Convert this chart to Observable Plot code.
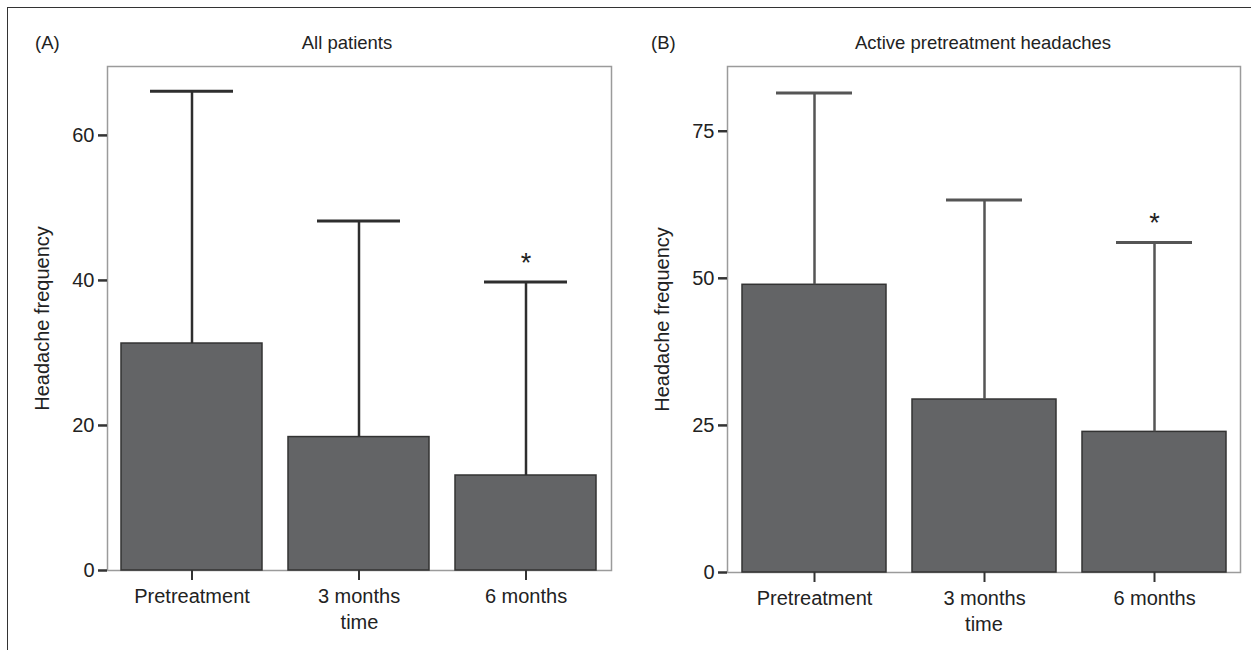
<!DOCTYPE html>
<html>
<head>
<meta charset="utf-8">
<script src="https://cdn.jsdelivr.net/npm/d3@7"></script>
<script src="https://cdn.jsdelivr.net/npm/@observablehq/plot@0.6"></script>
<style>
  html, body { margin: 0; padding: 0; background: #fff; }
  #root { position: relative; width: 1251px; height: 650px; overflow: hidden; background: #fff;
          font-family: "Liberation Sans", Arial, Helvetica, sans-serif; color: #222; }
  #border { position: absolute; left: 7px; top: 7px; width: 1300px; height: 700px;
            border-left: 1.5px solid #333; border-top: 1.5px solid #333; }
  .panel { position: absolute; top: 0; }
  .tag, .title { position: absolute; font-size: 18.5px; line-height: 1; white-space: nowrap; }
  .title { transform: translateX(-50%); }
</style>
</head>
<body>
<div id="root">
  <div id="border"></div>
  <div class="tag" style="left:35px; top:34px;">(A)</div>
  <div class="title" style="left:347px; top:34px;">All patients</div>
  <div class="tag" style="left:651px; top:34px;">(B)</div>
  <div class="title" style="left:983px; top:34px;">Active pretreatment headaches</div>
  <div id="panelA" class="panel" style="left:0px;"></div>
  <div id="panelB" class="panel" style="left:620px;"></div>
</div>
<script>
// ---- data ----
const categories = ["Pretreatment", "3 months", "6 months"];
const meansA = [31.3, 18.4, 13.1];
const upperA = [66.1, 48.2, 39.8];
const meansB = [48.9, 29.4, 23.9];
const upperB = [81.5, 63.3, 56.1];
const sigMarks = ["", "", "*"];
const ticksA = [0, 20, 40, 60];
const ticksB = [0, 25, 50, 75];
const yLabel = "Headache frequency";
const xLabel = "time";

function makePanel(means, upper, ticks, yMax, opts) {
  const data = categories.map((c, i) => ({cat: c, mean: means[i], upper: upper[i], sig: sigMarks[i]}));
  return Plot.plot({
    width: opts.width,
    height: 650,
    marginTop: 66,
    marginLeft: 107,
    marginRight: opts.marginRight,
    marginBottom: opts.marginBottom,
    style: {fontFamily: "'Liberation Sans', Arial, Helvetica, sans-serif", fontSize: "20px", color: "#222", background: "transparent", overflow: "visible"},
    x: {domain: categories, paddingInner: 0.155, paddingOuter: 0.08},
    y: {domain: [0, yMax]},
    marks: [
      Plot.frame({stroke: "#9b9b9b", strokeWidth: 1.5}),
      Plot.barY(data, {x: "cat", y: "mean", fill: "#636466", stroke: "#333", strokeWidth: 1.5}),
      Plot.ruleX(data, {x: "cat", y1: "mean", y2: "upper", stroke: opts.errColor, strokeWidth: 2.5}),
      Plot.tickY(data, {x: "cat", y: "upper", stroke: opts.errColor, strokeWidth: 3, insetLeft: opts.capInset, insetRight: opts.capInset}),
      Plot.text(data, {x: "cat", y: "upper", text: "sig", dy: -19, fontSize: 27, fill: "#222"}),
      Plot.axisY({ticks, tickSize: 9, tickPadding: 4, strokeWidth: 2.5, stroke: "#333", fontSize: 20,
                  label: yLabel, labelAnchor: "center", labelArrow: "none", labelOffset: 73}),
      Plot.axisX({tickSize: 10, tickPadding: 8, strokeWidth: 2, stroke: "#333", fontSize: 20,
                  label: xLabel, labelAnchor: "center", labelArrow: "none", labelOffset: 58})
    ]
  });
}

document.getElementById("panelA").append(
  makePanel(meansA, upperA, ticksA, 69.5, {width: 625, marginRight: 14, marginBottom: 80, capInset: 29, errColor: "#2e2e2e"})
);
document.getElementById("panelB").append(
  makePanel(meansB, upperB, ticksB, 86.0, {width: 631, marginRight: 11, marginBottom: 78, capInset: 34, errColor: "#555"})
);
</script>
</body>
</html>
